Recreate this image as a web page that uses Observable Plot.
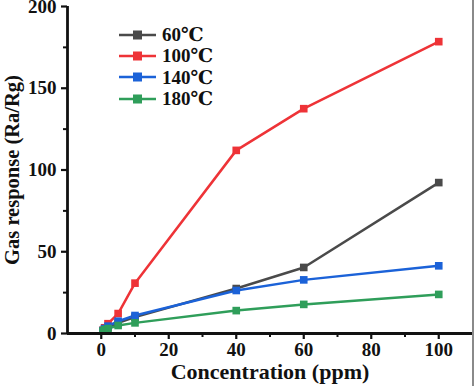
<!DOCTYPE html>
<html>
<head>
<meta charset="utf-8">
<script src="https://cdn.jsdelivr.net/npm/d3@7"></script>
<script src="https://cdn.jsdelivr.net/npm/@observablehq/plot@0.6"></script>
<style>
  html, body { margin: 0; padding: 0; background: #fff; }
  #wrap { position: relative; width: 474px; height: 386px; overflow: hidden; }
  #legend { position: absolute; left: 116px; top: 24px; font-family: "Liberation Serif", "DejaVu Serif", serif; font-weight: bold; font-size: 19px; color: #111; }
  #legend .row { display: flex; align-items: center; height: 21.3px; }
  #legend svg { margin-right: 4px; }
  #border { position: absolute; right: 0; top: 0; width: 2px; height: 386px; background: #8a8a8a; }
</style>
</head>
<body>
<div id="wrap"><div id="chart"></div><div id="legend"></div><div id="border"></div></div>
<script>
const concentration = [0.5, 1, 2, 5, 10, 40, 60, 100];
const series = ["60℃", "100℃", "140℃", "180℃"];
const colors = ["#4a4a4a", "#ee3337", "#1b62d8", "#2f9e5a"];
const resp60 = [1.5, 2.5, 3.5, 6.5, 10, 27.5, 40.4, 92.3];
const resp100 = [2, 3.5, 6, 12.2, 30.8, 112, 137.5, 178.5];
const resp140 = [1.8, 3, 4.5, 7.5, 11, 26.3, 32.8, 41.4];
const resp180 = [1.5, 2.4, 3, 4.9, 6.5, 14, 17.8, 23.9];
const xMajor = [0, 20, 40, 60, 80, 100];
const xMinor = [10, 30, 50, 70, 90];
const yMajor = [0, 50, 100, 150, 200];
const yMinor = [25, 75, 125, 175];

const allSeries = [resp60, resp100, resp140, resp180];
const data = [];
series.forEach((s, i) => concentration.forEach((c, j) => data.push({series: s, x: c, y: allSeries[i][j]})));

const font = '"Liberation Serif", "DejaVu Serif", serif';
const chart = Plot.plot({
  width: 474,
  height: 386,
  marginLeft: 67,
  marginRight: 2,
  marginTop: 6,
  marginBottom: 53,
  style: {fontFamily: font, fontWeight: "bold", fontSize: "19px", color: "#111", background: "#fff", overflow: "visible"},
  x: {domain: [-10, 110]},
  y: {domain: [0, 200]},
  color: {domain: series, range: colors},
  marks: [
    Plot.line(data, {x: "x", y: "y", z: "series", stroke: "series", strokeWidth: 2.5}),
    Plot.dot(data, {x: "x", y: "y", fill: "series", symbol: "square", r: 4.3, stroke: null}),
    Plot.ruleY([0], {stroke: "#111", strokeWidth: 2.8}),
    Plot.ruleX([-10], {stroke: "#111", strokeWidth: 2.8}),
    Plot.axisX({ticks: xMajor, tickSize: 6, tickPadding: 3, strokeWidth: 2.2, label: null, fontSize: 19, fontWeight: "bold"}),
    Plot.axisX({ticks: xMinor, tickSize: 4, text: null, strokeWidth: 2, label: null}),
    Plot.axisY({ticks: yMajor, tickSize: 6, tickPadding: 5, strokeWidth: 2.2, label: null, fontSize: 19, fontWeight: "bold"}),
    Plot.axisY({ticks: yMinor, tickSize: 4, text: null, strokeWidth: 2, label: null}),
    Plot.text(["Concentration (ppm)"], {frameAnchor: "bottom", dy: 38.5, fontSize: 22, fontWeight: "bold", fill: "#111", textAnchor: "middle", lineAnchor: "middle"}),
    Plot.text(["Gas response (Ra/Rg)"], {frameAnchor: "left", dx: -55, rotate: -90, fontSize: 20.5, fontWeight: "bold", fill: "#111", textAnchor: "middle", lineAnchor: "middle"})
  ]
});
document.getElementById("chart").appendChild(chart);

const legend = document.getElementById("legend");
series.forEach((s, i) => {
  const row = document.createElement("div");
  row.className = "row";
  row.innerHTML = `<svg width="42" height="12"><line x1="3" x2="40" y1="6" y2="6" stroke="${colors[i]}" stroke-width="2.5"/><rect x="17" y="1.5" width="9" height="9" fill="${colors[i]}"/></svg><span>${s}</span>`;
  legend.appendChild(row);
});
</script>
</body>
</html>
